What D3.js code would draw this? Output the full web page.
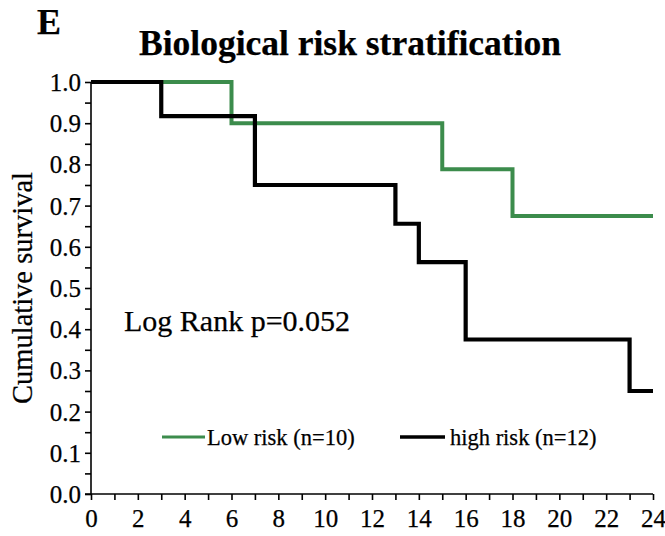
<!DOCTYPE html>
<html>
<head>
<meta charset="utf-8">
<script src="https://cdn.jsdelivr.net/npm/d3@7/dist/d3.min.js"></script>
<style>
  html, body { margin: 0; padding: 0; background: #fff; }
  svg { display: block; }
  text { font-family: "Liberation Serif", "Times New Roman", serif; fill: #000; stroke: #000; stroke-width: 0.25px; }
</style>
</head>
<body>
<svg id="chart" width="665" height="536" font-family="Liberation Serif, serif"></svg>
<script>
// ---- data ----
const lowTimes = [0, 6, 15, 18, 24];
const lowSurv  = [1.0, 0.9, 0.788, 0.675, 0.675];
const highTimes = [0, 3, 7, 13, 14, 16, 23, 24];
const highSurv  = [1.0, 0.917, 0.75, 0.656, 0.563, 0.375, 0.25, 0.25];
const seriesNames = ["Low risk (n=10)", "high risk (n=12)"];
const seriesColors = ["#3c8c4c", "#000000"];
const xMajorTicks = [0, 2, 4, 6, 8, 10, 12, 14, 16, 18, 20, 22, 24];
const yMajorTicks = [0, 0.1, 0.2, 0.3, 0.4, 0.5, 0.6, 0.7, 0.8, 0.9, 1.0];
const titleText = "Biological risk stratification";
const panelLabel = "E";
const yLabel = "Cumulative survival";
const annotation = "Log Rank p=0.052";

const svg = d3.select("#chart");
const mLeft = 91, mRight = 653, mTop = 82, mBottom = 494;

const x = d3.scaleLinear().domain([0, 24]).range([mLeft, mRight]);
const y = d3.scaleLinear().domain([0, 1]).range([mBottom, mTop]);

// panel label & title
svg.append("text").attr("x", 37).attr("y", 34)
  .attr("font-size", 36).attr("font-weight", "bold").text(panelLabel);
svg.append("text").attr("x", 350).attr("y", 55).attr("text-anchor", "middle")
  .attr("font-size", 35.5).attr("font-weight", "bold").text(titleText);

// y axis
const yMinor = d3.range(0, 1.0001, 0.05);
const yAxis = d3.axisLeft(y).tickValues(yMinor).tickSize(6).tickSizeOuter(0)
  .tickFormat(d => {
    const m = yMajorTicks.find(v => Math.abs(v - d) < 1e-6);
    return m === undefined ? "" : d3.format(".1f")(m);
  });
const gy = svg.append("g").attr("transform", `translate(${mLeft},0)`).call(yAxis);
gy.attr("font-family", null);
gy.selectAll("text").attr("font-size", 25).attr("x", -10).attr("dy", "0.34em");
gy.selectAll("path, line").attr("stroke", "#000").attr("stroke-width", 1.6);
gy.select(".domain").attr("d", `M0,${mTop}V${mBottom}`);

// x axis
const xMinor = d3.range(0, 24.001, 1);
const xAxis = d3.axisBottom(x).tickValues(xMinor).tickSize(6).tickSizeOuter(0)
  .tickFormat(d => xMajorTicks.includes(d) ? d : "");
const gx = svg.append("g").attr("transform", `translate(0,${mBottom})`).call(xAxis);
gx.attr("font-family", null);
gx.selectAll("text").attr("font-size", 25).attr("y", 15);
gx.selectAll("path, line").attr("stroke", "#000").attr("stroke-width", 1.6);
gx.select(".domain").attr("d", `M${mLeft - 6},0H${mRight}`);

// y label
svg.append("text")
  .attr("transform", `translate(32,${(mTop + mBottom) / 2}) rotate(-90)`)
  .attr("text-anchor", "middle").attr("font-size", 28.5).text(yLabel);

// curves
const line = d3.line().x(d => x(d[0])).y(d => y(d[1])).curve(d3.curveStepAfter);
const lowData = lowTimes.map((t, i) => [t, lowSurv[i]]);
const highData = highTimes.map((t, i) => [t, highSurv[i]]);
svg.append("path").datum(lowData).attr("d", line)
  .attr("fill", "none").attr("stroke", seriesColors[0]).attr("stroke-width", 4);
svg.append("path").datum(highData).attr("d", line)
  .attr("fill", "none").attr("stroke", seriesColors[1]).attr("stroke-width", 4.2);

// annotation
svg.append("text").attr("x", 124).attr("y", 331).attr("font-size", 30).text(annotation);

// legend
const legendItems = [
  { x0: 162, x1: 205, tx: 207 },
  { x0: 400, x1: 445, tx: 450 }
];
legendItems.forEach((it, i) => {
  svg.append("line").attr("x1", it.x0).attr("x2", it.x1).attr("y1", 437).attr("y2", 437)
    .attr("stroke", seriesColors[i]).attr("stroke-width", i === 0 ? 3 : 3.5);
  svg.append("text").attr("x", it.tx).attr("y", 445).attr("font-size", 22.5)
    .text(seriesNames[i]);
});
</script>
</body>
</html>
